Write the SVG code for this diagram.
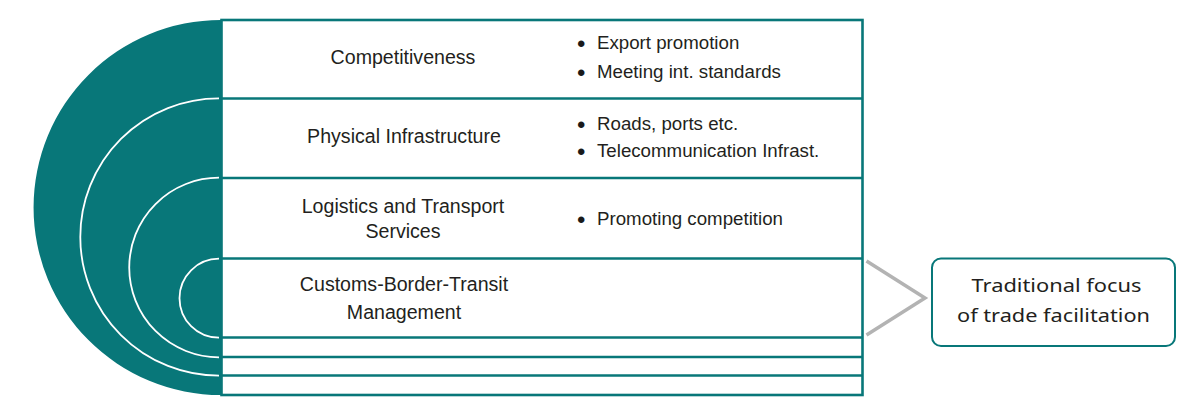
<svg xmlns="http://www.w3.org/2000/svg" width="1190" height="397" viewBox="0 0 1190 397">
  <style>
    .lbl { font-family: "Liberation Sans", Arial, sans-serif; font-size: 19.6px; fill: #231f20; text-anchor: middle; }
    .bul { font-family: "Liberation Sans", Arial, sans-serif; font-size: 18.7px; fill: #231f20; }
    .dot { font-family: "Liberation Sans", Arial, sans-serif; font-size: 24px; fill: #1a1a1a; }
    .row { stroke: #087779; stroke-width: 2.6; fill: none; }
    .arc { stroke: #ffffff; stroke-width: 1.8; fill: none; }
    .call { font-family: "Noto Sans", "Open Sans", sans-serif; font-size: 17.5px; fill: #231f20; text-anchor: middle; }
  </style>
  <rect width="1190" height="397" fill="#ffffff"/>

  <g id="rings">
    <path d="M221,20 A187.5,187.5 0 0 0 221,395 Z" fill="#087779"/>
    <path class="arc" d="M219,98.3 A138.7,138.7 0 0 0 219,375.7"/>
    <path class="arc" d="M219,177.7 A89.8,89.8 0 0 0 219,357.3"/>
    <path class="arc" d="M219,258.7 A39.5,39.5 0 0 0 219,337.7"/>
  </g>

  <g id="table">
    <rect x="221.5" y="20" width="641" height="375" fill="#ffffff" class="row"/>
    <line class="row" x1="221" y1="98.5" x2="862.5" y2="98.5"/>
    <line class="row" x1="221" y1="178" x2="862.5" y2="178"/>
    <line class="row" x1="221" y1="258.5" x2="862.5" y2="258.5"/>
    <line class="row" x1="221" y1="337.5" x2="862.5" y2="337.5"/>
    <line class="row" x1="221" y1="357" x2="862.5" y2="357"/>
    <line class="row" x1="221" y1="375.5" x2="862.5" y2="375.5"/>
  </g>

  <g id="competitiveness">
    <text class="lbl" x="403" y="64">Competitiveness</text>
    <text class="dot" x="577" y="51.5">•</text>
    <text class="bul" x="597" y="49">Export promotion</text>
    <text class="dot" x="577" y="80.5">•</text>
    <text class="bul" x="597" y="78">Meeting int. standards</text>
  </g>

  <g id="physical-infrastructure">
    <text class="lbl" x="404" y="143">Physical Infrastructure</text>
    <text class="dot" x="577" y="132.5">•</text>
    <text class="bul" x="597" y="130">Roads, ports etc.</text>
    <text class="dot" x="577" y="159.5">•</text>
    <text class="bul" x="597" y="157">Telecommunication Infrast.</text>
  </g>

  <g id="logistics">
    <text class="lbl" x="403" y="213">Logistics and Transport</text>
    <text class="lbl" x="403" y="238">Services</text>
    <text class="dot" x="577" y="227.5">•</text>
    <text class="bul" x="597" y="225">Promoting competition</text>
  </g>

  <g id="customs">
    <text class="lbl" x="404" y="291">Customs-Border-Transit</text>
    <text class="lbl" x="404" y="319">Management</text>
  </g>

  <g id="connectors">
    <polyline points="866.5,261 925,298 866.5,335" fill="none" stroke="#b3b3b3" stroke-width="3.5"/>
  </g>

  <g id="traditional-focus">
    <rect x="932" y="258.5" width="243" height="87.5" rx="9" ry="9" fill="#ffffff" stroke="#087779" stroke-width="2"/>
    <text class="call" x="1056.5" y="292" textLength="170" lengthAdjust="spacingAndGlyphs">Traditional focus</text>
    <text class="call" x="1053.5" y="322" textLength="193" lengthAdjust="spacingAndGlyphs">of trade facilitation</text>
  </g>
</svg>
